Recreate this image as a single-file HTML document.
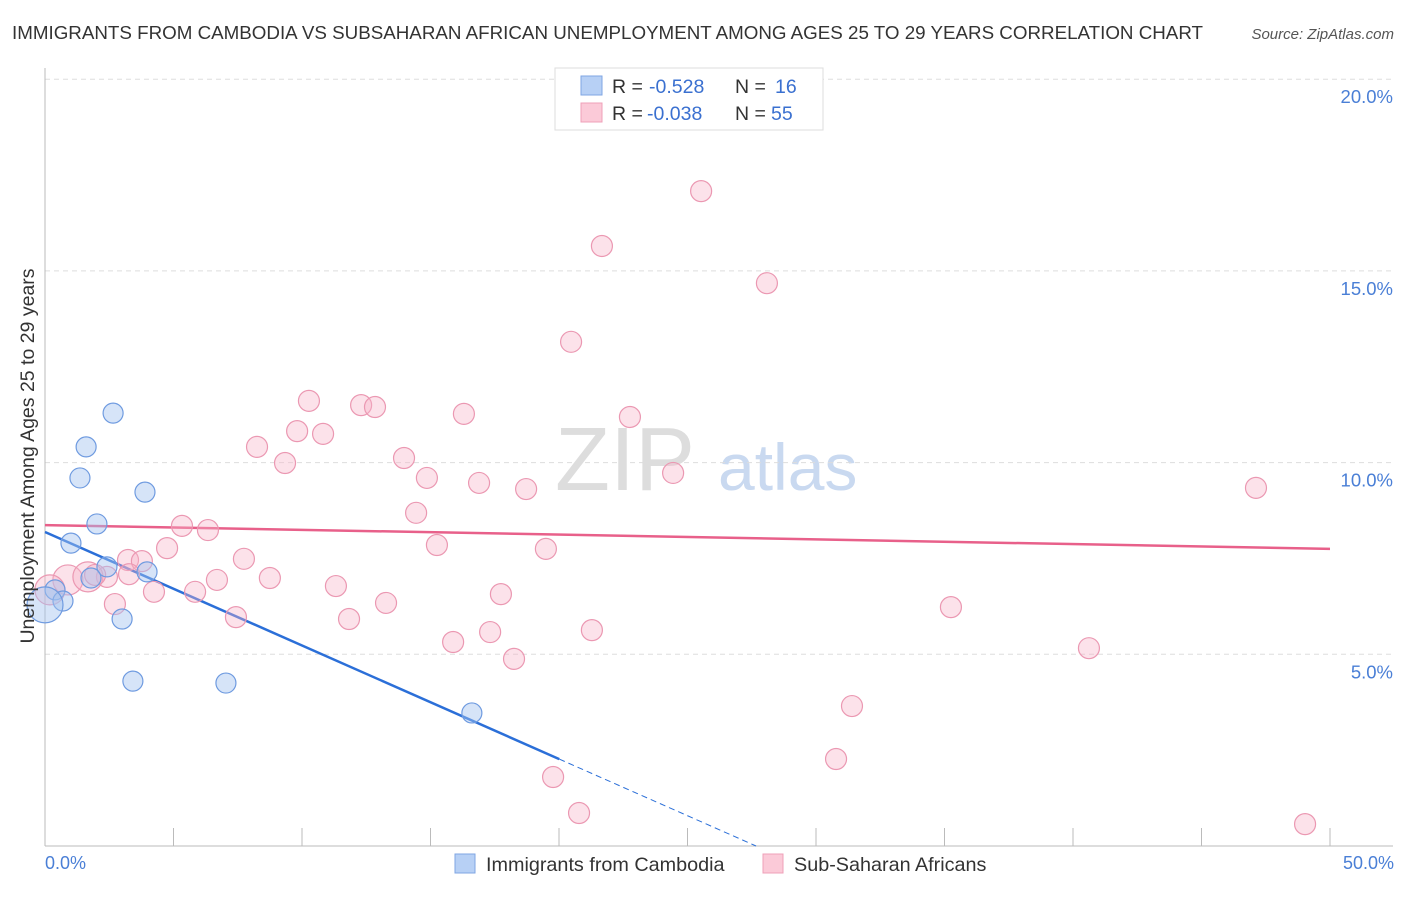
<!DOCTYPE html>
<html><head><meta charset="utf-8"><style>
body{margin:0;background:#fff;font-family:"Liberation Sans",sans-serif}
svg text{font-family:"Liberation Sans",sans-serif}
</style></head><body>
<svg id="chart" width="1406" height="892" xmlns="http://www.w3.org/2000/svg">
<text x="12" y="39" font-size="18.8" fill="#333" textLength="1191" lengthAdjust="spacingAndGlyphs">IMMIGRANTS FROM CAMBODIA VS SUBSAHARAN AFRICAN UNEMPLOYMENT AMONG AGES 25 TO 29 YEARS CORRELATION CHART</text>
<text x="1394" y="39" font-size="15" fill="#555" font-style="italic" text-anchor="end">Source: ZipAtlas.com</text>
<text x="555" y="490" font-size="90" fill="#ddd" font-family="Liberation Serif">ZIP</text>
<text x="718" y="490" font-size="66" fill="#c9d9f0">atlas</text>
<g id="grid"></g><g id="axes"></g><g id="lines"></g><g id="points"></g>
<text transform="translate(34,456) rotate(-90)" font-size="19.5" fill="#333" text-anchor="middle">Unemployment Among Ages 25 to 29 years</text>
<text x="45" y="869" font-size="18" fill="#4a7fd6">0.0%</text>
<text x="1394" y="869" font-size="18" fill="#4a7fd6" text-anchor="end">50.0%</text>
<g>
<rect x="555" y="68" width="268" height="62" fill="#fff" stroke="#ddd"/>
<rect x="581" y="76" width="21" height="19" fill="#b7d0f5" stroke="#7fa6e3"/>
<rect x="581" y="103" width="21" height="19" fill="#fbcad8" stroke="#efa0b8"/>
<text x="612" y="93" font-size="19.5" fill="#333">R =</text>
<text x="649" y="93" font-size="19.5" fill="#3a70d0">-0.528</text>
<text x="735" y="93" font-size="19.5" fill="#333">N =</text>
<text x="775" y="93" font-size="19.5" fill="#3a70d0">16</text>
<text x="612" y="120" font-size="19.5" fill="#333">R =</text>
<text x="647" y="120" font-size="19.5" fill="#3a70d0">-0.038</text>
<text x="735" y="120" font-size="19.5" fill="#333">N =</text>
<text x="771" y="120" font-size="19.5" fill="#3a70d0">55</text>
</g>
<g>
<rect x="455" y="854" width="20" height="19" fill="#b7d0f5" stroke="#7fa6e3"/>
<text x="486" y="871" font-size="19.8" fill="#333">Immigrants from Cambodia</text>
<rect x="763" y="854" width="20" height="19" fill="#fbcad8" stroke="#efa0b8"/>
<text x="794" y="871" font-size="19.8" fill="#333">Sub-Saharan Africans</text>
</g>
</svg>
<script>
const blueX=[2.65,1.60,1.36,3.89,2.02,1.01,2.41,3.97,1.79,0.39,0.70,3.00,3.42,7.04,16.61,0];
const blueY=[11.29,10.41,9.60,9.23,8.40,7.90,7.28,7.15,6.99,6.68,6.39,5.92,4.30,4.25,3.47,6.29];
const blueR=[12,12,12,12,12,12,12,12,12,12,12,12,12,12,12,20];
const pinkX=[25.53,21.67,28.09,20.47,10.27,12.30,12.84,16.30,22.76,9.81,10.82,8.25,13.97,9.34,24.44,14.86,16.89,18.72,47.12,14.44,5.33,6.34,15.25,4.75,19.49,7.74,3.23,3.77,2.41,3.27,8.75,6.69,11.32,5.84,4.24,17.74,2.72,13.27,35.25,7.43,11.83,17.32,21.28,15.88,18.25,40.62,31.40,30.78,19.77,20.78,49.03,0.89,0.19,1.67,1.95];
const pinkY=[17.08,15.65,14.68,13.15,11.61,11.50,11.45,11.27,11.19,10.82,10.75,10.41,10.12,9.99,9.73,9.60,9.47,9.31,9.34,8.69,8.35,8.24,7.85,7.77,7.75,7.49,7.46,7.43,7.02,7.09,6.99,6.94,6.78,6.63,6.63,6.57,6.31,6.34,6.23,5.97,5.92,5.58,5.63,5.32,4.88,5.16,3.65,2.27,1.80,0.86,0.57,6.94,6.68,7.02,7.07];
const pinkBig=[0,0,0,0,0,0,0,0,0,0,0,0,0,0,0,0,0,0,0,0,0,0,0,0,0,0,0,0,0,0,0,0,0,0,0,0,0,0,0,0,0,0,0,0,0,0,0,0,0,0,0,1,1,1,0];
const yTicks=[5,10,15,20];
const blueTrend=[8.19,-0.296]; // intercept, slope
const pinkTrend=[8.37,-0.0124];
const NS="http://www.w3.org/2000/svg";
const sx=v=>45+v*1285/50, sy=v=>846-v*191.7/5;
function mk(t,a,p){const e=document.createElementNS(NS,t);for(const k in a)e.setAttribute(k,a[k]);document.getElementById(p).appendChild(e);return e;}
yTicks.forEach(t=>{
 const g=mk('line',{x1:45,x2:1393,y1:sy(t),y2:sy(t),stroke:'#ddd','stroke-dasharray':'5,4'},'grid');
 
 
 const l=mk('text',{x:1393,y:sy(t)+24,'font-size':18.5,fill:'#4a7fd6','text-anchor':'end'},'grid');
 l.textContent=t.toFixed(1)+'%';
 
 
});
const ax=mk('line',{x1:45,x2:45,y1:68,y2:846,stroke:'#bbb'},'axes');


const bx=mk('line',{x1:45,x2:1393,y1:846,y2:846,stroke:'#bbb'},'axes');


for(let i=1;i<=10;i++){const t=mk('line',{x1:sx(i*5),x2:sx(i*5),y1:828,y2:846,stroke:'#bbb'},'axes');
 
 }
const bmax=Math.max(...blueX)+3.4, bz=-blueTrend[0]/blueTrend[1];
const l1=mk('line',{x1:sx(0),y1:sy(blueTrend[0]),x2:sx(bmax),y2:sy(blueTrend[0]+blueTrend[1]*bmax),stroke:'#2b6fd8','stroke-width':2.5},'lines');


const l2=mk('line',{x1:sx(bmax),y1:sy(blueTrend[0]+blueTrend[1]*bmax),x2:sx(bz),y2:sy(0),stroke:'#2b6fd8','stroke-width':1,'stroke-dasharray':'6,4'},'lines');


const l3=mk('line',{x1:sx(0),y1:sy(pinkTrend[0]),x2:sx(50),y2:sy(pinkTrend[0]+pinkTrend[1]*50),stroke:'#e8608a','stroke-width':2.5},'lines');


pinkX.forEach((x,i)=>{const c=mk('circle',{cx:sx(x),cy:sy(pinkY[i]),r:pinkBig[i]?15:10.5,fill:'rgba(248,178,200,0.38)',stroke:'#eb98b2','stroke-width':1.2},'points');
 
 });
blueX.forEach((x,i)=>{const c=mk('circle',{cx:sx(x),cy:sy(blueY[i]),r:blueR[i]-2,fill:'rgba(164,196,240,0.45)',stroke:'#6f9be0','stroke-width':1.2},'points');
 
 });
</script>
</body></html>
